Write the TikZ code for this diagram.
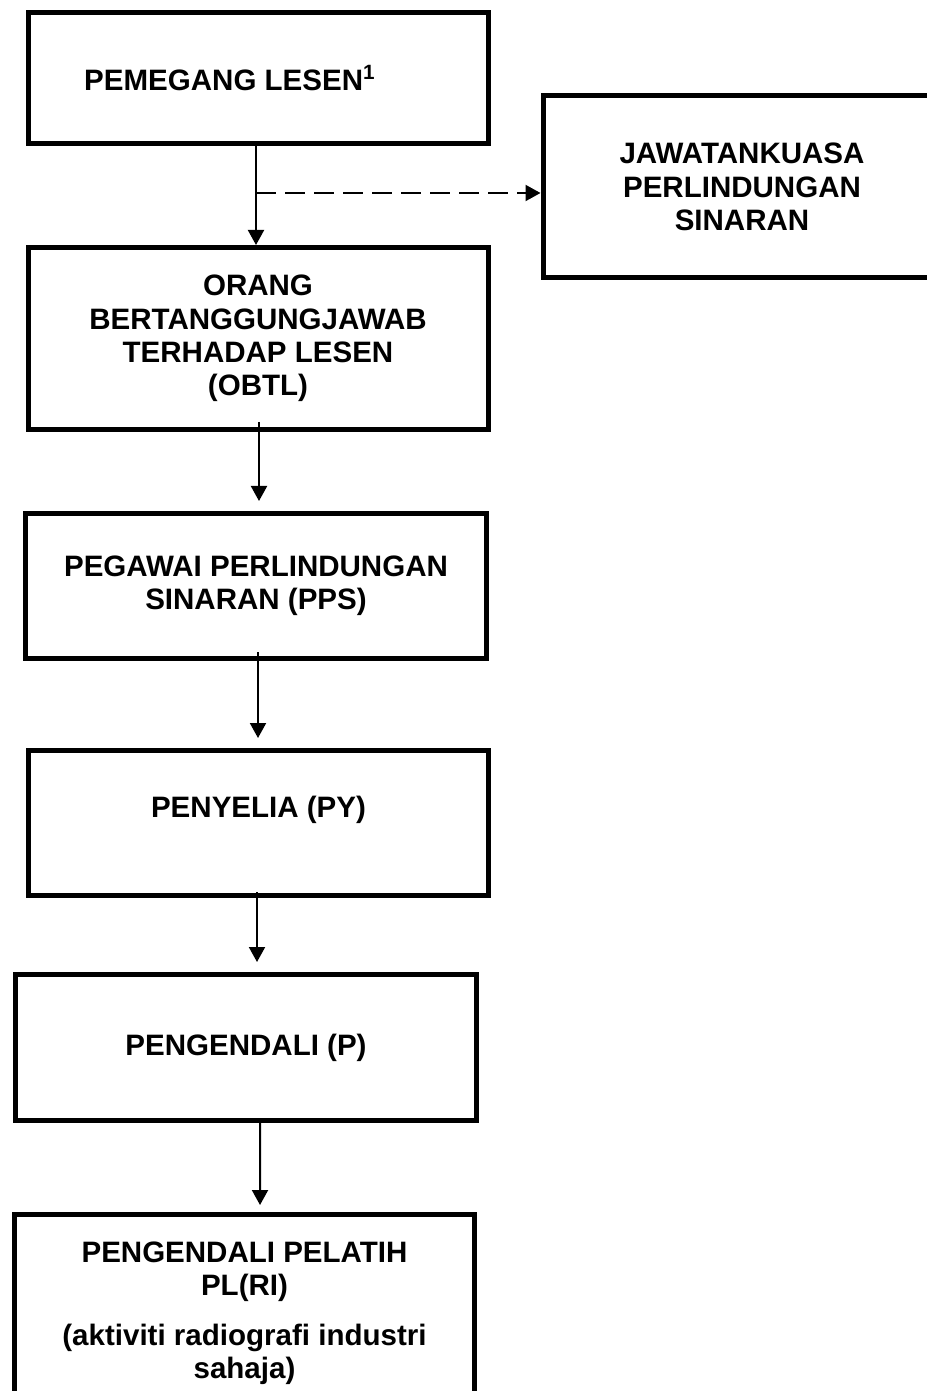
\documentclass[tikz,border=0pt]{standalone}
\usepackage{fontspec}
\setmainfont{Liberation Sans}
\usepackage{tikz}
\usetikzlibrary{arrows.meta}
\newlength\unitpx
\setlength\unitpx{0.015cm}
\tikzset{
  bx/.style={rectangle, draw=black, line width=5\unitpx, align=center, inner sep=0pt, font=\bfseries\fontsize{12.6pt}{14.2pt}\selectfont},
  ar/.style={line width=0.03cm, -{Triangle[width=0.24cm,length=0.225cm]}},
  dar/.style={ar, dash pattern=on 0.3cm off 0.135cm}
}

\begin{document}
\begin{tikzpicture}[x=1\unitpx, y=-1\unitpx]
	\useasboundingbox (0,0) rectangle (926,1391);
	\node[bx, minimum width=460\unitpx, minimum height=131\unitpx] (lesen) at (258,78) {PEMEGANG LESEN\textsuperscript{1}\hspace*{56\unitpx}};
	\node[bx, minimum width=398\unitpx, minimum height=182\unitpx] (jk) at (742,187) {JAWATANKUASA\\PERLINDUNGAN\\SINARAN};
	\node[bx, minimum width=460\unitpx, minimum height=182\unitpx] (obtl) at (258,338.5) {ORANG\\BERTANGGUNGJAWAB\\TERHADAP LESEN\\(OBTL)};
	\node[bx, minimum width=461\unitpx, minimum height=145\unitpx] (pps) at (256,586) {PEGAWAI PERLINDUNGAN\\SINARAN (PPS)};
	\node[bx, minimum width=460\unitpx, minimum height=145\unitpx] (py) at (258.5,823) {PENYELIA (PY)\\~};
	\node[bx, minimum width=461\unitpx, minimum height=146\unitpx] (p) at (246,1047.5) {PENGENDALI (P)};
	\node[bx, minimum width=460\unitpx, minimum height=197\unitpx] (pl) at (244.5,1313) {PENGENDALI PELATIH\\PL(RI)\\[7pt](aktiviti radiografi industri\\sahaja)};
	
	\coordinate (cab) at (256,193);
	\draw[ar] (lesen.south -| cab) -- (obtl.north -| cab);
	\draw[dar] (cab) -- (cab -| jk.west);
	\draw[ar] ([xshift=1\unitpx,yshift=10\unitpx]obtl.south) -- ([xshift=3\unitpx,yshift=10\unitpx]pps.north);
	\draw[ar] ([xshift=2\unitpx,yshift=9\unitpx]pps.south) -- ([xshift=-0.5\unitpx,yshift=10\unitpx]py.north);
	\draw[ar] ([xshift=-1.5\unitpx,yshift=6\unitpx]py.south) -- ([xshift=11\unitpx,yshift=10\unitpx]p.north);
	\draw[ar] ([xshift=14\unitpx,yshift=5\unitpx]p.south) -- ([xshift=15.5\unitpx,yshift=7\unitpx]pl.north);
	
\end{tikzpicture}
\end{document}
